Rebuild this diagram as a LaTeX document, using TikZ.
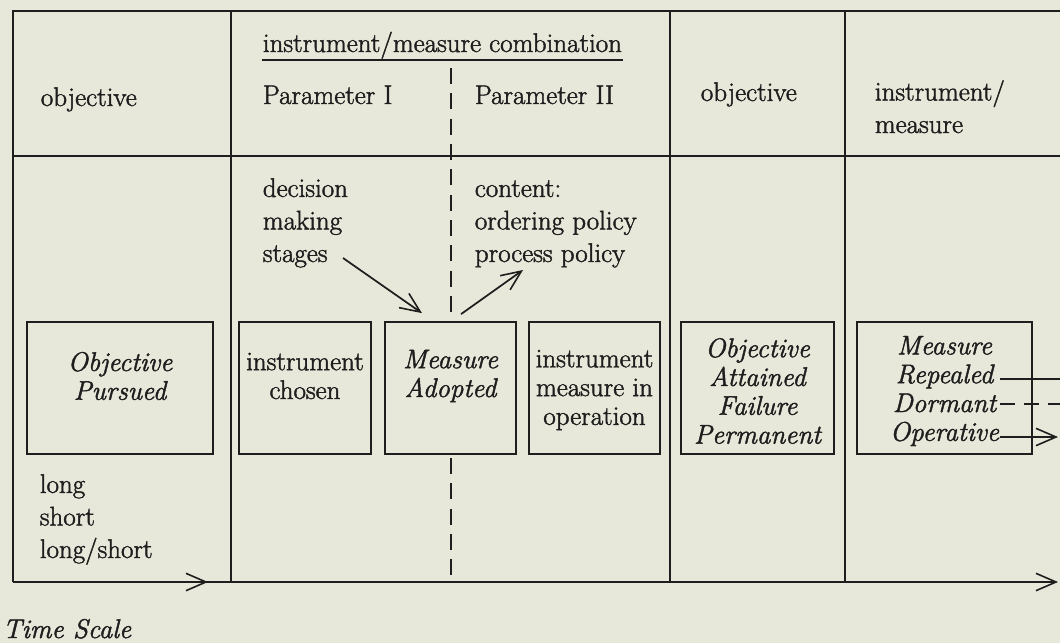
\documentclass[tikz,border=0pt]{standalone}
\usepackage{fontspec}
\setmainfont{Latin Modern Roman}[
  UprightFeatures={FakeBold=1.6},
  ItalicFeatures={FakeBold=1.6}]
\usetikzlibrary{arrows.meta,calc}
\definecolor{paper}{RGB}{232,232,218}
\definecolor{ink}{RGB}{30,30,30}
\begin{document}
\begin{tikzpicture}[x=0.75pt,y=-0.75pt,line width=1.3pt,color=ink,
  body/.style={inner sep=0pt,text=ink,font=\fontsize{20.25}{24.4}\selectfont},
  bodyit/.style={body,font=\fontsize{20.25}{24.4}\selectfont\itshape},
  boxtxt/.style={inner sep=0pt,text=ink,align=center,font=\fontsize{20.25}{21.6}\selectfont},
  boxtxtit/.style={boxtxt,font=\fontsize{20.25}{21.6}\selectfont\itshape},
  cell/.style={draw,inner sep=0pt,minimum height=99pt},
  tip/.style={-{Straight Barb[length=15pt,width=13pt,line width=1.2pt]}},
  divider/.style={dash pattern=on 12pt off 7pt}]

\fill[paper] (0,0) rectangle (1060,643);
\useasboundingbox (0,0) rectangle (1060,643);

% frame and column rules
\draw (1060,11) -- (13,11) -- (13,582);
\draw (13,156) -- (1060,156);
\foreach \cx in {231,670,845} \draw (\cx,11) -- (\cx,582);

% time axis
\draw[tip] (13,582) -- (208,582);
\draw[tip] (13,582) -- (1058,582);

% header row
\node[body,anchor=base west] (obj1) at (40,106) {objective};
\node[body,anchor=base west] (combo) at (262,52) {instrument/measure combination};
\draw ($(combo.base west)+(0,8)$) -- ($(combo.base east)+(0,8)$);
\node[body,anchor=base west] (par1) at (262,104) {Parameter I};
\node[body,anchor=base west] (par2) at (474,104) {Parameter II};
\node[body,anchor=base west] (obj2) at (700,101) {objective};
\node[body,anchor=base west,align=left] (instr) at (874,133) {instrument/\\measure};

% second row
\node[body,anchor=base west,align=left] (stages) at (262,262) {decision\\making\\stages};
\node[body,anchor=base west,align=left] (content) at (474,262) {content:\\ordering policy\\process policy};

% stage boxes
\node[cell,minimum width=139.5pt] (pursued) at (120,388) {};
\node[cell,minimum width=99pt] (chosen) at (305,388) {};
\node[cell,minimum width=98.25pt] (adopted) at (450.5,388) {};
\node[cell,minimum width=98.25pt] (operation) at (594.5,388) {};
\node[cell,minimum width=114.75pt] (attained) at (757.5,388) {};
\node[cell,minimum width=131.25pt] (repealed) at (944.5,388) {};

\node[boxtxtit] (tpursued) at ($(pursued)+(0,-12)$) {Objective\\Pursued};
\node[boxtxt] (tchosen) at ($(chosen)+(0,-12)$) {instrument\\chosen};
\node[boxtxtit] (tadopted) at ($(adopted)+(0,-12)$) {Measure\\Adopted};
\node[boxtxt] (toperation) at ($(operation)+(0,2)$) {instrument\\measure in\\operation};
\node[boxtxtit] (tattained) at ($(attained)+(0,3)$) {Objective\\Attained\\Failure\\Permanent};
\node[boxtxtit] (trepealed) at ($(repealed)+(0,3)$) {Measure\\Repealed\\Dormant\\Operative};

% dashed split between the two parameters
\draw[divider] (451,68) -- ($(adopted.north)+(0.5,-8)$);
\draw[divider] ($(adopted.south)+(0.5,3)$) -- (451,582);

% arrows around the adopted measure
\coordinate (stagesend) at (343,258);
\coordinate (policytip) at (523,270);
\draw[tip] (stagesend) -- ($(adopted.north)+(-28.5,-8)$);
\draw[tip] ($(adopted.north)+(10.5,-7)$) -- (policytip);

% outcomes of the repealed/dormant/operative measure
\coordinate (rep) at (1000,379);
\coordinate (dor) at (1000,404);
\coordinate (ope) at (1000,437);
\draw (rep) -- (1060,379);
\draw[dash pattern=on 11pt off 7pt] (dor) -- (1060,404);
\draw[tip] (ope) -- (1058,437);

% time scale labels
\node[body,anchor=base west,align=left] (scale) at (39,558) {long\\short\\long/short};
\node[bodyit,anchor=base west] (timescale) at (2,638) {Time Scale};
\end{tikzpicture}
\end{document}
